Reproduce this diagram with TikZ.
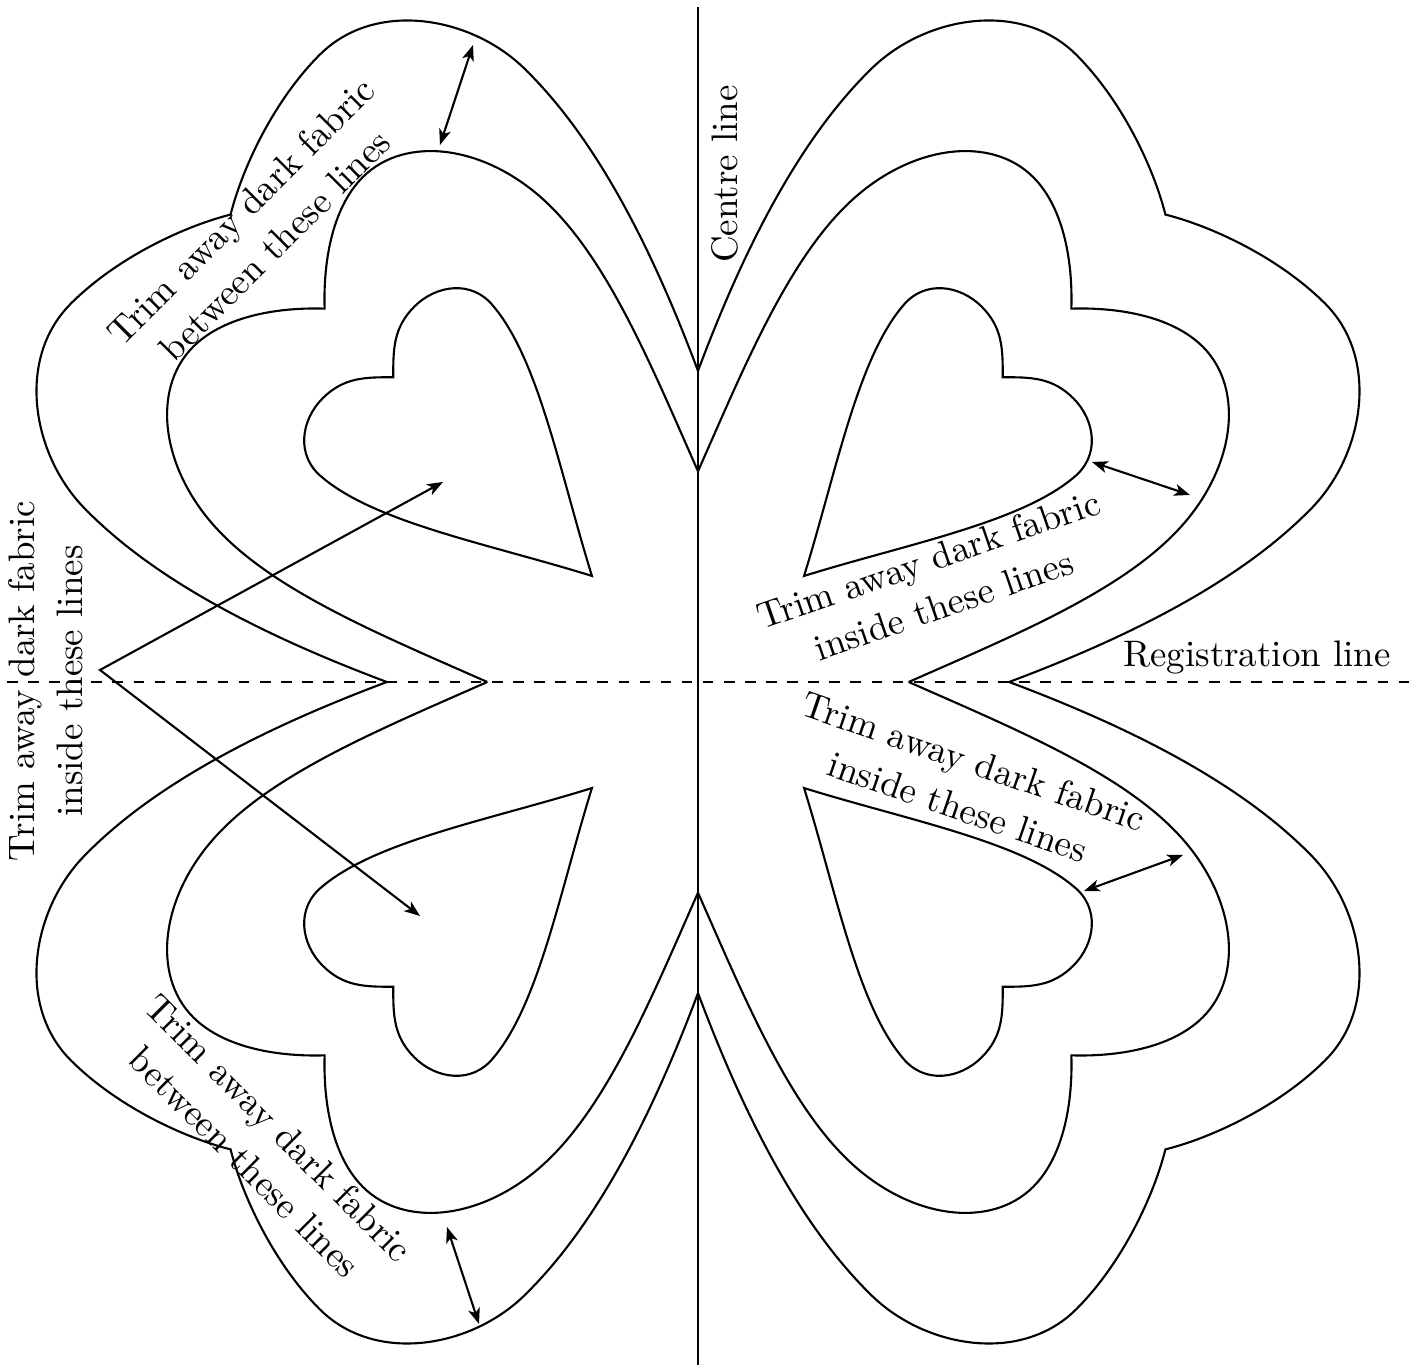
\documentclass[tikz,border=0pt]{standalone}
\usepackage{tikz}
\usetikzlibrary{arrows.meta}

\begin{document}
\begin{tikzpicture}[x=0.1mm, y=0.1mm,
    outline/.style = {line width=0.6pt},
    axis/.style = {line width=0.65pt},
    regline/.style = {line width=0.6pt, dash pattern=on 3pt off 3pt},
    trimnote/.style = {font={\fontsize{10.5}{13.7}\selectfont}, align=center, inner sep=0pt},
    gauge/.style = {line width=0.6pt, {Stealth[length=4.5pt, width=3.4pt, inset=1.2pt]}-{Stealth[length=4.5pt, width=3.4pt, inset=1.2pt]}},
    rings/.pic = {
        % outer and middle outlines stop on the axes
        \draw[outline] (-220,220) .. controls (-270,330) and (-312,450) .. (-311,555)
            .. controls (-311,630) and (-255,711) .. (-176,711)
            .. controls (-110,711) and (-40,685) .. (0,661)
            .. controls (40,685) and (110,711) .. (176,711)
            .. controls (255,711) and (311,630) .. (311,555)
            .. controls (312,450) and (270,330) .. (220,220);
        \draw[outline] (-149,149) .. controls (-190,255) and (-234,360) .. (-232,445)
            .. controls (-230,530) and (-180,594) .. (-120,594)
            .. controls (-75,594) and (-30,560) .. (0,528)
            .. controls (30,560) and (75,594) .. (120,594)
            .. controls (180,594) and (230,530) .. (232,445)
            .. controls (234,360) and (190,255) .. (149,149);
        \draw[outline] (0,150) .. controls (-50,245) and (-115,340) .. (-121,410)
            .. controls (-125,445) and (-95,466) .. (-65,466)
            .. controls (-35,466) and (-20,451) .. (0,431)
            .. controls (20,451) and (35,466) .. (65,466)
            .. controls (95,466) and (125,445) .. (121,410)
            .. controls (115,340) and (50,245) .. (0,150) -- cycle;
    }]
    \useasboundingbox (-698,-683) rectangle (715,682);

    \pic[rotate=45] at (0,0) {rings};
    \pic[rotate=-45] at (0,0) {rings};
    \pic[rotate=135] at (0,0) {rings};
    \pic[rotate=-135] at (0,0) {rings};

    \draw[axis] (0,675) -- (0,-683);
    \draw[regline] (-691,0) -- (715,0);

    \node[rotate=90, anchor=base, trimnote] (centrelabel) at (40,508) {Centre line};
    \node[anchor=base, trimnote] (reglabel) at (559,15) {Registration line};
    \node[rotate=45, trimnote] (tlnote) at (-440,454) {Trim away dark fabric\\between these lines};
    \node[rotate=19, trimnote] (trnote) at (238,100) {Trim away dark fabric\\inside these lines};
    \node[rotate=-19, trimnote] (brnote) at (268,-102) {Trim away dark fabric\\inside these lines};
    \node[rotate=-45, trimnote] (blnote) at (-436,-463) {Trim away dark fabric\\between these lines};
    \node[rotate=90, trimnote] (leftnote) at (-652,1) {Trim away dark fabric\\inside these lines};

    \coordinate (tlout) at (-225,637);
    \coordinate (tlmid) at (-258,537);
    \coordinate (trin) at (394,220);
    \coordinate (trmid) at (492,187);
    \coordinate (brin) at (386,-209);
    \coordinate (brmid) at (485,-173);
    \coordinate (blmid) at (-251,-545);
    \coordinate (blout) at (-219,-642);
    \coordinate (apex) at (-598,12);
    \coordinate (tlin) at (-255,200);
    \coordinate (blin) at (-278,-234);

    \draw[gauge] (tlmid) -- (tlout);
    \draw[gauge] (trin) -- (trmid);
    \draw[gauge] (brin) -- (brmid);
    \draw[gauge] (blmid) -- (blout);
    \draw[gauge] (tlin) -- (apex) -- (blin);
\end{tikzpicture}
\end{document}
